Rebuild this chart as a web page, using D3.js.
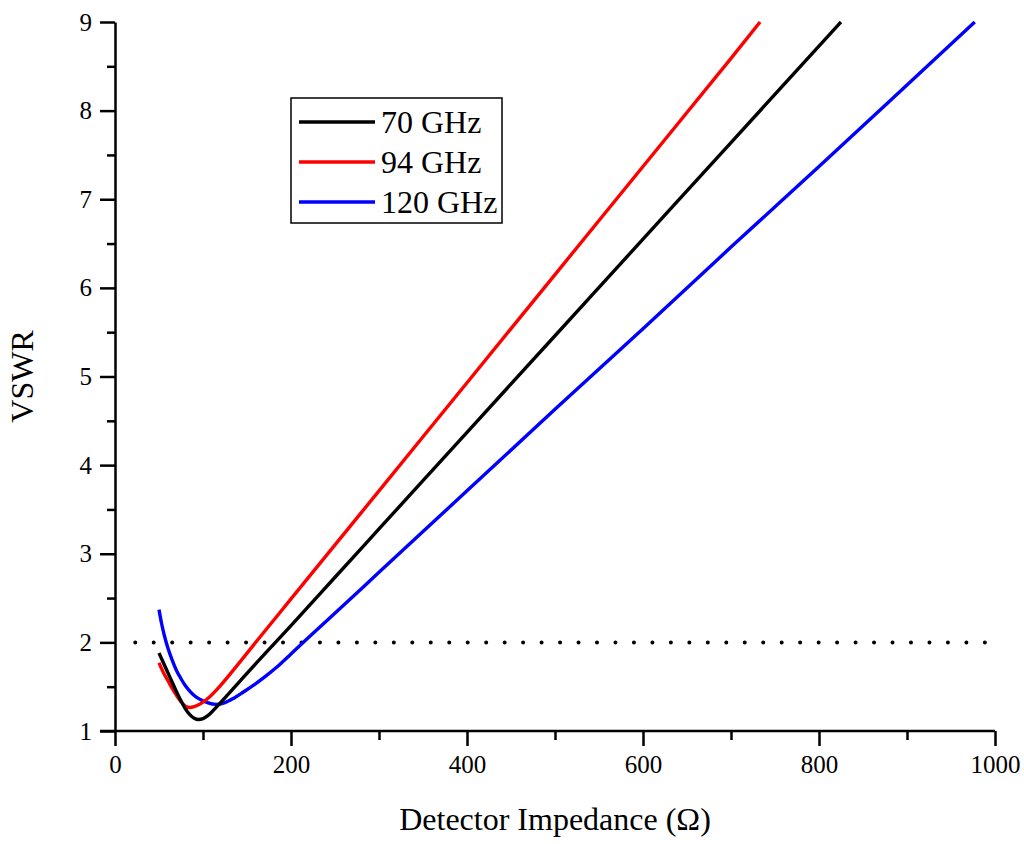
<!DOCTYPE html>
<html lang="en">
<head>
  <meta charset="UTF-8">
  <title>VSWR vs Detector Impedance</title>
  <script src="https://d3js.org/d3.v7.min.js"></script>
  <style>
    body {
      margin: 0;
      background: #fff;
    }
    svg text {
      font-family: 'Liberation Serif', 'Times New Roman', serif;
      fill: #000;
    }
    .axis path, .axis line {
      stroke: #000;
      stroke-width: 2.5;
    }
    .curve {
      fill: none;
      stroke-width: 3.4;
      stroke-linejoin: round;
    }
  </style>
</head>
<body>
<svg width="1024" height="844"></svg>
<script>
  // detector impedance (ohm) and VSWR read for each frequency
  const z70 = [50, 55, 60, 65, 70, 75, 80, 85, 90, 95, 100, 105, 110, 120, 140, 160, 180, 200, 250, 300, 400, 500, 600, 700, 825];
  const vswr70 = [1.88, 1.77, 1.66, 1.55, 1.44, 1.34, 1.25, 1.185, 1.145, 1.13, 1.14, 1.17, 1.215, 1.32, 1.54, 1.76, 1.975, 2.19, 2.735, 3.28, 4.37, 5.46, 6.55, 7.64, 9.0];

  const z94 = [50, 55, 60, 65, 70, 75, 80, 85, 90, 95, 100, 108, 120, 140, 159, 200, 250, 300, 400, 500, 600, 700, 733];
  const vswr94 = [1.77, 1.66, 1.57, 1.48, 1.40, 1.33, 1.28, 1.265, 1.275, 1.295, 1.325, 1.39, 1.515, 1.755, 1.99, 2.49, 3.10, 3.71, 4.93, 6.15, 7.37, 8.59, 9.0];

  const z120 = [50, 53, 56, 60, 65, 70, 75, 80, 85, 90, 97, 105, 115, 125, 135, 146, 160, 172, 184, 198, 212, 244, 300, 400, 500, 600, 700, 800, 900, 977];
  const vswr120 = [2.37, 2.21, 2.08, 1.94, 1.80, 1.68, 1.59, 1.51, 1.45, 1.40, 1.355, 1.32, 1.30, 1.32, 1.37, 1.44, 1.535, 1.625, 1.722, 1.85, 1.982, 2.275, 2.79, 3.71, 4.63, 5.54, 6.46, 7.37, 8.29, 9.0];

  const seriesNames = ["70 GHz", "94 GHz", "120 GHz"];
  const seriesColors = ["#000000", "#ff0000", "#0000ff"];

  const xMajor = [0, 200, 400, 600, 800, 1000];
  const xMinor = [100, 300, 500, 700, 900];
  const yMajor = [1, 2, 3, 4, 5, 6, 7, 8, 9];
  const yMinor = [1.5, 2.5, 3.5, 4.5, 5.5, 6.5, 7.5, 8.5];

  const vswrLimit = 2;
  const limitZ = [23, 1000];

  const svg = d3.select("svg");

  const x = d3.scaleLinear().domain([0, 1000]).range([115, 995]);
  const y = d3.scaleLinear().domain([1, 9]).range([731, 22]);

  const series = [
    { name: seriesNames[0], color: seriesColors[0], pts: z70.map((z, i) => [z, vswr70[i]]) },
    { name: seriesNames[1], color: seriesColors[1], pts: z94.map((z, i) => [z, vswr94[i]]) },
    { name: seriesNames[2], color: seriesColors[2], pts: z120.map((z, i) => [z, vswr120[i]]) }
  ];

  // VSWR = 2 reference line
  svg.append("line")
    .attr("x1", x(limitZ[0]))
    .attr("x2", x(limitZ[1]))
    .attr("y1", y(vswrLimit))
    .attr("y2", y(vswrLimit))
    .attr("stroke", "#000")
    .attr("stroke-width", 4)
    .attr("stroke-linecap", "round")
    .attr("stroke-dasharray", "0 18.47");

  const line = d3.line()
    .x(d => x(d[0]))
    .y(d => y(d[1]))
    .curve(d3.curveMonotoneX);

  // blue first, black on top
  svg.append("g")
    .selectAll("path")
    .data([series[2], series[1], series[0]])
    .join("path")
    .attr("class", "curve")
    .attr("stroke", d => d.color)
    .attr("d", d => line(d.pts));

  // axes: major + minor ticks
  const xAxis = svg.append("g")
    .attr("class", "axis")
    .attr("transform", `translate(0,${y(1)})`)
    .call(d3.axisBottom(x).tickValues(xMajor).tickFormat(d3.format("d")).tickSize(15).tickSizeOuter(0).tickPadding(9))
    .call(g => g.selectAll("text").attr("font-size", 25));
  xAxis.select(".domain").attr("d", `M${x(0) - 15},0H${x(1000)}`);

  svg.append("g")
    .attr("class", "axis")
    .attr("transform", `translate(0,${y(1)})`)
    .call(d3.axisBottom(x).tickValues(xMinor).tickSize(9).tickFormat(""))
    .call(g => g.select(".domain").remove());

  svg.append("g")
    .attr("class", "axis")
    .attr("transform", `translate(${x(0)},0)`)
    .call(d3.axisLeft(y).tickValues(yMajor).tickSize(15).tickSizeOuter(0).tickPadding(8))
    .call(g => g.selectAll("text").attr("font-size", 25));

  svg.append("g")
    .attr("class", "axis")
    .attr("transform", `translate(${x(0)},0)`)
    .call(d3.axisLeft(y).tickValues(yMinor).tickSize(8).tickFormat(""))
    .call(g => g.select(".domain").remove());

  // axis titles
  svg.append("text")
    .attr("x", (x(0) + x(1000)) / 2)
    .attr("y", 830)
    .attr("text-anchor", "middle")
    .attr("font-size", 32)
    .text("Detector Impedance (Ω)");

  svg.append("text")
    .attr("transform", `translate(33,${(y(1) + y(9)) / 2}) rotate(-90)`)
    .attr("text-anchor", "middle")
    .attr("font-size", 32)
    .text("VSWR");

  // legend
  const legend = svg.append("g").attr("transform", "translate(291,98)");
  legend.append("rect")
    .attr("width", 211)
    .attr("height", 125)
    .attr("fill", "#fff")
    .attr("stroke", "#000")
    .attr("stroke-width", 1.5);

  const item = legend.selectAll("g.item")
    .data(series)
    .join("g")
    .attr("class", "item")
    .attr("transform", (d, i) => `translate(0,${24 + i * 40})`);

  item.append("line")
    .attr("x1", 8).attr("x2", 84)
    .attr("stroke", d => d.color)
    .attr("stroke-width", 3.4);

  item.append("text")
    .attr("x", 90)
    .attr("y", 11)
    .attr("font-size", 32)
    .text(d => d.name);
</script>
</body>
</html>
